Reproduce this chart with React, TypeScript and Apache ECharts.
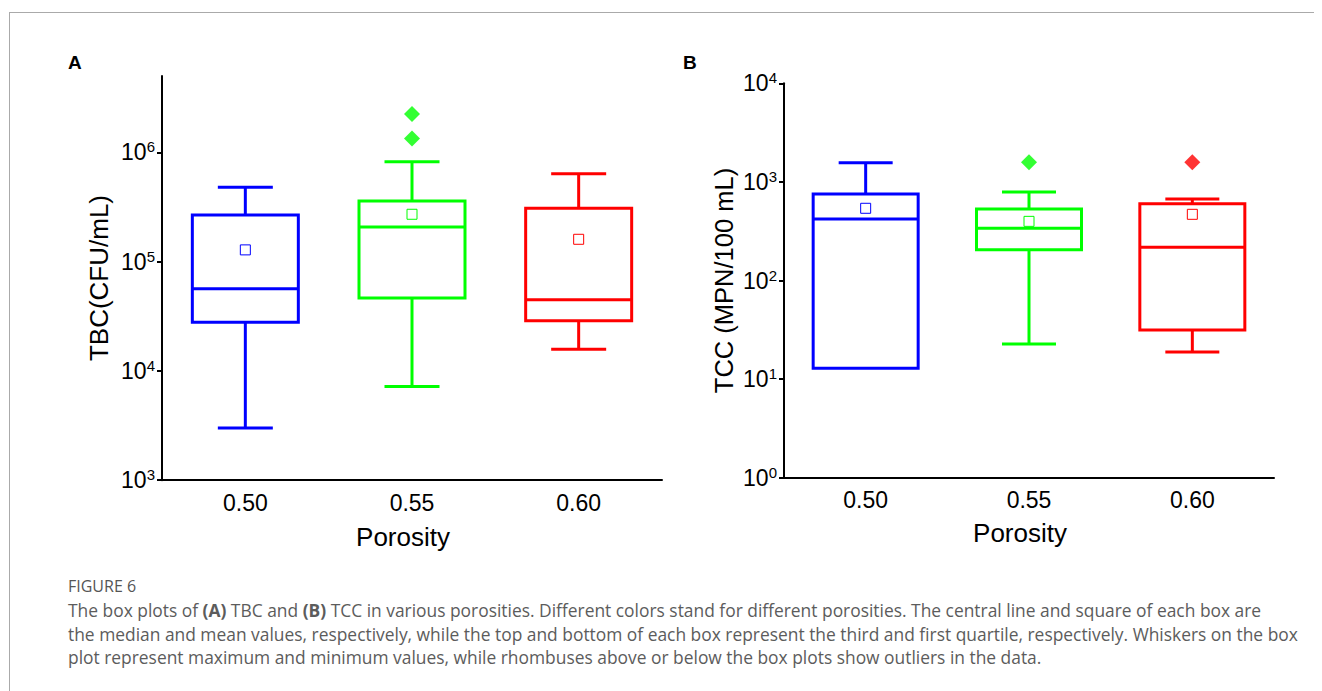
import React, { useEffect, useRef } from 'react';
import * as echarts from 'echarts';

// ---------- data ----------
const porosity = ['0.50', '0.55', '0.60'];
const boxColors = ['#0000ff', '#00ff00', '#ff0000'];

// (A) TBC (CFU/mL)
const tbcMin = [3.0e3, 7.2e3, 1.58e4];
const tbcQ1 = [2.78e4, 4.64e4, 2.88e4];
const tbcMedian = [5.65e4, 2.07e5, 4.48e4];
const tbcQ3 = [2.67e5, 3.58e5, 3.07e5];
const tbcMax = [4.79e5, 8.2e5, 6.37e5];
const tbcMean = [1.28e5, 2.71e5, 1.6e5];
const tbcOutlierCats = ['0.55', '0.55'];
const tbcOutlierVals = [2.24e6, 1.34e6];
const tbcTicks = [1e3, 1e4, 1e5, 1e6];

// (B) TCC (MPN/100 mL)
const tccMin = [12.9, 22.7, 18.8];
const tccQ1 = [12.9, 205, 31.5];
const tccMedian = [421, 338, 217];
const tccQ3 = [754, 531, 601];
const tccMax = [1566, 790, 671];
const tccMean = [540, 398, 469];
const tccOutlierCats = ['0.55', '0.60'];
const tccOutlierVals = [1580, 1580];
const tccTicks = [1, 10, 100, 1000, 10000];

const captionLines = [
  'The box plots of {b|(A)} TBC and {b|(B)} TCC in various porosities. Different colors stand for different porosities. The central line and square of each box are',
  'the median and mean values, respectively, while the top and bottom of each box represent the third and first quartile, respectively. Whiskers on the box',
  'plot represent maximum and minimum values, while rhombuses above or below the box plots show outliers in the data.',
];

const FONT = '"Liberation Sans", Arial, sans-serif';
const CAP_FONT = '"Open Sans", "Noto Sans", sans-serif';
const CAP_SIZE = 17.4;

function makeRender(boxW: number, capW: number) {
  return (params: any, api: any) => {
    const idx = api.value(0);
    const vMin = api.value(1);
    const q1 = api.value(2);
    const med = api.value(3);
    const q3 = api.value(4);
    const vMax = api.value(5);
    const x = api.coord([idx, med])[0];
    const yMin = api.coord([idx, vMin])[1];
    const yQ1 = api.coord([idx, q1])[1];
    const yMed = api.coord([idx, med])[1];
    const yQ3 = api.coord([idx, q3])[1];
    const yMax = api.coord([idx, vMax])[1];
    const color = boxColors[idx];
    const st = { stroke: color, lineWidth: 3, fill: null };
    const hb = boxW / 2;
    const hc = capW / 2;
    const children: any[] = [
      { type: 'rect', shape: { x: x - hb, y: yQ3, width: boxW, height: yQ1 - yQ3 }, style: { stroke: color, lineWidth: 3, fill: 'rgba(0,0,0,0)' } },
      { type: 'line', shape: { x1: x - hb, y1: yMed, x2: x + hb, y2: yMed }, style: st },
    ];
    if (yQ3 - yMax > 0.5) {
      children.push({ type: 'line', shape: { x1: x, y1: yQ3, x2: x, y2: yMax }, style: st });
      children.push({ type: 'line', shape: { x1: x - hc, y1: yMax, x2: x + hc, y2: yMax }, style: st });
    }
    if (yMin - yQ1 > 0.5) {
      children.push({ type: 'line', shape: { x1: x, y1: yQ1, x2: x, y2: yMin }, style: st });
      children.push({ type: 'line', shape: { x1: x - hc, y1: yMin, x2: x + hc, y2: yMin }, style: st });
    }
    return { type: 'group', children };
  };
}

function boxData(mn: number[], q1: number[], md: number[], q3: number[], mx: number[]) {
  return porosity.map((_, i) => [i, mn[i], q1[i], md[i], q3[i], mx[i]]);
}

function meanData(means: number[]) {
  return porosity.map((p, i) => ({ value: [p, means[i]], itemStyle: { borderColor: boxColors[i] } }));
}

function outlierData(cats: string[], vals: number[]) {
  return cats.map((c, i) => ({ value: [c, vals[i]], itemStyle: { color: boxColors[porosity.indexOf(c)] } }));
}

const supFormatter = (v: number) => `{b|10}{s|${Math.round(Math.log10(v))}}`;
const supRich = {
  b: { fontSize: 23, fontFamily: FONT, color: '#000', lineHeight: 26 },
  s: { fontSize: 15, fontFamily: FONT, color: '#000', lineHeight: 15, verticalAlign: 'top' },
};

function xAxisFor(gridIndex: number, nameGap: number) {
  return {
    type: 'category',
    gridIndex,
    data: porosity,
    boundaryGap: true,
    axisLine: { onZero: false, lineStyle: { color: '#000', width: 2 } },
    axisTick: { alignWithLabel: true, length: 7, lineStyle: { color: '#000', width: 2 } },
    axisLabel: { fontSize: 23, color: '#000', fontFamily: FONT, margin: 11 },
    splitLine: { show: false },
    name: 'Porosity',
    nameLocation: 'middle',
    nameGap,
    nameTextStyle: { fontSize: 26, color: '#000', fontFamily: FONT, padding: [0, 18, 0, 0] },
  };
}

function yAxisFor(gridIndex: number, min: number, max: number, ticks: number[], name: string, nameSize: number, nameGap: number) {
  return {
    type: 'log',
    logBase: 10,
    gridIndex,
    min,
    max,
    axisLine: { show: true, onZero: false, lineStyle: { color: '#000', width: 2 } },
    axisTick: { show: true, length: 5, customValues: ticks, lineStyle: { color: '#000', width: 2 } },
    axisLabel: { customValues: ticks, formatter: supFormatter, rich: supRich, margin: 7 },
    splitLine: { show: false },
    minorTick: { show: false },
    name,
    nameLocation: 'middle',
    nameGap,
    nameTextStyle: { fontSize: nameSize, color: '#000', fontFamily: FONT },
  };
}

export default function App() {
  const ref = useRef<HTMLDivElement>(null);
  useEffect(() => {
    document.body.style.margin = '0';
    const chart = echarts.init(ref.current!, null, { renderer: 'svg' });
    const option: any = {
      animation: false,
      backgroundColor: '#fff',
      grid: [
        { left: 162, top: 75.9, width: 500, height: 404.3, containLabel: false, outerBoundsMode: 'none' },
        { left: 784, top: 83.3, width: 490, height: 394.4, containLabel: false, outerBoundsMode: 'none' },
      ],
      xAxis: [xAxisFor(0, 44), xAxisFor(1, 42)],
      yAxis: [
        yAxisFor(0, 1e3, 5e6, tbcTicks, 'TBC(CFU/mL)', 26, 50),
        yAxisFor(1, 1, 1e4, tccTicks, 'TCC (MPN/100 mL)', 25.5, 47),
      ],
      series: [
        {
          type: 'custom', xAxisIndex: 0, yAxisIndex: 0,
          renderItem: makeRender(106, 55),
          encode: { x: 0, y: [1, 2, 3, 4, 5] },
          data: boxData(tbcMin, tbcQ1, tbcMedian, tbcQ3, tbcMax),
          z: 2,
        },
        {
          type: 'scatter', xAxisIndex: 0, yAxisIndex: 0, symbol: 'rect', symbolSize: 10,
          itemStyle: { color: '#fff', borderWidth: 1, opacity: 1 },
          data: meanData(tbcMean), z: 3,
        },
        {
          type: 'scatter', xAxisIndex: 0, yAxisIndex: 0, symbol: 'diamond', symbolSize: 16,
          data: outlierData(tbcOutlierCats, tbcOutlierVals), z: 3,
        },
        {
          type: 'custom', xAxisIndex: 1, yAxisIndex: 1,
          renderItem: makeRender(105, 54),
          encode: { x: 0, y: [1, 2, 3, 4, 5] },
          data: boxData(tccMin, tccQ1, tccMedian, tccQ3, tccMax),
          z: 2,
        },
        {
          type: 'scatter', xAxisIndex: 1, yAxisIndex: 1, symbol: 'rect', symbolSize: 10,
          itemStyle: { color: '#fff', borderWidth: 1, opacity: 1 },
          data: meanData(tccMean), z: 3,
        },
        {
          type: 'scatter', xAxisIndex: 1, yAxisIndex: 1, symbol: 'diamond', symbolSize: 16,
          data: outlierData(tccOutlierCats, tccOutlierVals), z: 3,
        },
      ],
      graphic: [
        { type: 'line', shape: { x1: 9, y1: 12.5, x2: 1314, y2: 12.5 }, style: { stroke: '#aaa', lineWidth: 1 } },
        { type: 'line', shape: { x1: 9.5, y1: 12, x2: 9.5, y2: 691 }, style: { stroke: '#aaa', lineWidth: 1 } },
        { type: 'text', x: 68, y: 53, style: { text: 'A', fontSize: 19, fontWeight: 'bold', fontFamily: FONT, fill: '#000' } },
        { type: 'text', x: 683, y: 53, style: { text: 'B', fontSize: 19, fontWeight: 'bold', fontFamily: FONT, fill: '#000' } },
        { type: 'text', x: 68, y: 586, style: { text: 'FIGURE 6', fontSize: 16, fontFamily: CAP_FONT, fill: '#555', verticalAlign: 'middle' } },
        ...captionLines.map((t, i) => ({
          type: 'text', x: 68, y: 610 + i * 23.5,
          style: {
            text: t, fontSize: CAP_SIZE, fontFamily: CAP_FONT, fill: '#5c5c5c', verticalAlign: 'middle',
            rich: { b: { fontSize: CAP_SIZE, fontFamily: CAP_FONT, fontWeight: 'bold', fill: '#5c5c5c', color: '#5c5c5c' } },
          },
        })),
      ],
    };
    chart.setOption(option);
    return () => chart.dispose();
  }, []);
  return <div ref={ref} style={{ position: 'absolute', left: 0, top: 0, width: 1322, height: 691 }} />;
}
